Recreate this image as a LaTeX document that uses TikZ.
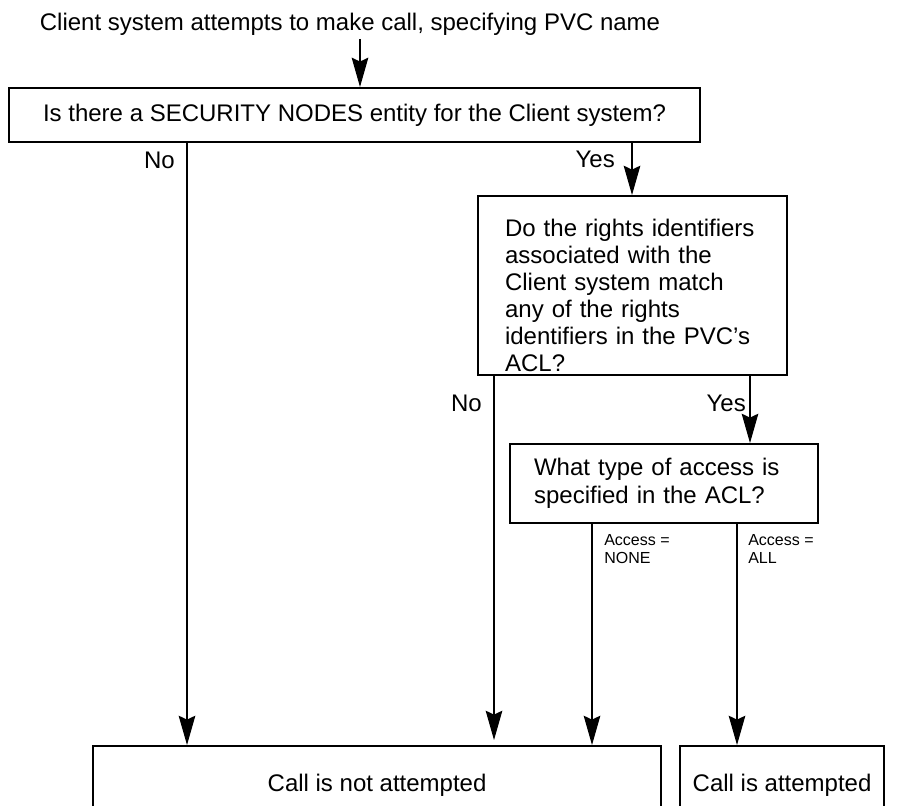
\documentclass[tikz,border=0pt]{standalone}
\usepackage{fontspec}
\setmainfont{Liberation Sans}
\usetikzlibrary{arrows.meta}
\begin{document}
\begin{tikzpicture}[x=0.75pt,y=-0.75pt,
  box/.style={draw, line width=1.6pt, inner sep=0pt, font=\fontsize{18}{20.25}\selectfont},
  conn/.style={line width=0.8pt},
  arr/.style={conn, -{Stealth[length=22pt,width=12.5pt,inset=3pt]}},
  lbl/.style={inner sep=0pt, font=\fontsize{18}{20.25}\selectfont},
  small/.style={inner sep=0pt, align=left, font=\fontsize{12}{13.5}\selectfont}]
\clip (0,0) rectangle (900,806);
\fill[white] (0,0) rectangle (900,806);

% question and outcome boxes
\node[lbl, anchor=base] (title) at (350,31) {Client system attempts to make call, specifying PVC name};
\node[box, minimum width=518.25pt, minimum height=40.5pt] (q1) at (354.5,115)
  {Is there a SECURITY NODES entity for the Client system?};
\node[box, anchor=north west, text width=191.25pt, inner xsep=20.25pt, align=left,
  minimum height=134.25pt] (q2) at (477,195)
  {\rule{0pt}{28pt}Do the rights identifiers\\ associated with the\\ Client system match\\
   any of the rights\\ identifiers in the PVC’s\\ ACL?};
\node[box, anchor=north west, text width=195pt, inner xsep=18pt, align=left,
  minimum height=59.25pt, font=\fontsize{18}{21}\selectfont] (q3) at (509,443)
  {What type of access is\\ specified in the ACL?};
\node[box, anchor=north west, minimum width=426pt, minimum height=59pt] (nA) at (92,745)
  {Call is not attempted};
\node[box, anchor=north west, minimum width=153pt, minimum height=59pt] (nB) at (679,745)
  {Call is attempted};

% connector columns
\coordinate (cT) at (360,39);
\coordinate (xA) at (187,0);
\coordinate (xB) at (632,0);
\coordinate (xC) at (494,0);
\coordinate (xD) at (750,0);
\coordinate (xE) at (592,0);
\coordinate (xF) at (737,0);

\draw[arr] (cT) -- (cT |- q1.north);
\draw[arr] (q1.south -| xA) -- (nA.north -| xA);
\draw[arr] (q1.south -| xB) -- (q2.north -| xB);
\draw[arr, shorten >=3.75pt] (q2.south -| xC) -- (nA.north -| xC);
\draw[arr] (q2.south -| xD) -- (q3.north -| xD);
\draw[arr] (q3.south -| xE) -- (nA.north -| xE);
\draw[arr] (q3.south -| xF) -- (nB.north -| xF);

% branch labels
\node[lbl, anchor=base east] (lNo1) at (175,169) {No};
\node[lbl, anchor=base east] (lYes1) at (615,168) {Yes};
\node[lbl, anchor=base east] (lNo2) at (482,411) {No};
\node[lbl, anchor=base east] (lYes2) at (746,411) {Yes};
\node[small, anchor=north west] (lNone) at (604,534) {Access =\\NONE};
\node[small, anchor=north west] (lAll) at (748,534) {Access =\\ALL};
\end{tikzpicture}
\end{document}
